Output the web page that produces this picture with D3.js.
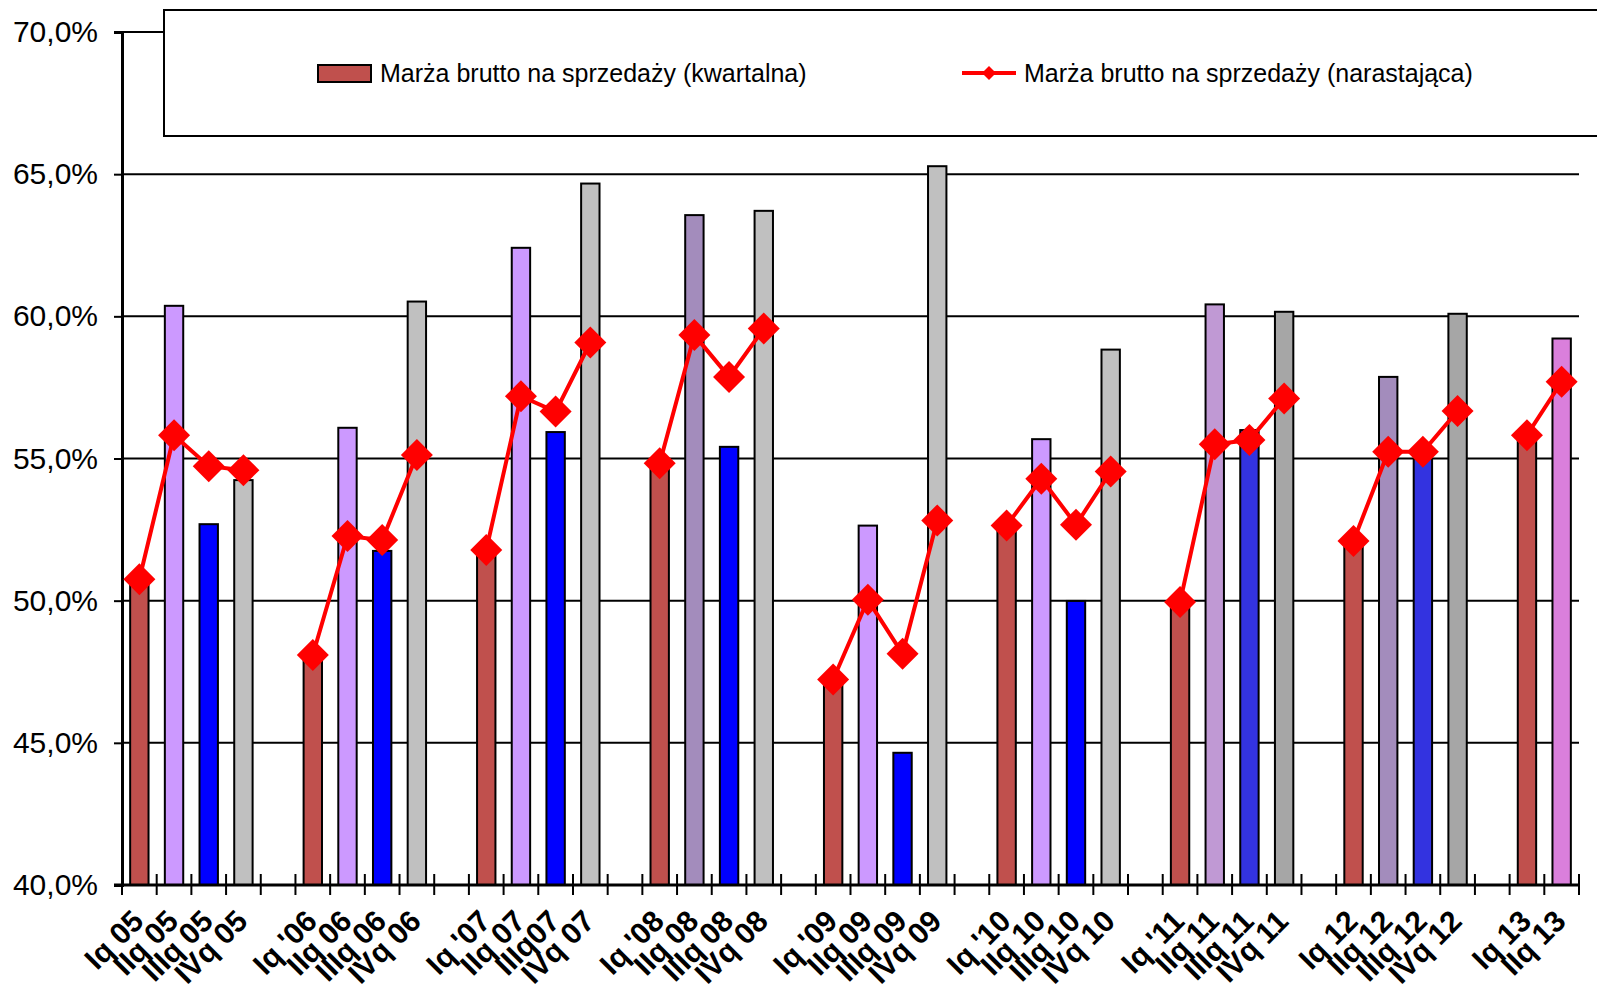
<!DOCTYPE html>
<html>
<head>
<meta charset="utf-8">
<script src="https://cdn.jsdelivr.net/npm/d3@7"></script>
<style>
  body { margin: 0; background: #fff; }
  text { font-family: Arial, "Liberation Sans", sans-serif; }
</style>
</head>
<body>
<div id="chart"></div>
<script>
// Chart size
var svgWidth = 1597;
var svgHeight = 990;

// Plot area edges
var margin = { top: 32, right: 18, bottom: 105, left: 122 };

// Category slots (empty string = gap between years)
var categories = [
  "Iq 05", "IIq 05", "IIIq 05", "IVq 05", "",
  "Iq '06", "IIq 06", "IIIq 06", "IVq 06", "",
  "Iq '07", "IIq 07", "IIIq07", "IVq 07", "",
  "Iq '08", "IIq 08", "IIIq 08", "IVq 08", "",
  "Iq '09", "IIq 09", "IIIq 09", "IVq 09", "",
  "Iq '10", "IIq 10", "IIIq 10", "IVq 10", "",
  "Iq '11", "IIq 11", "IIIq 11", "IVq 11", "",
  "Iq 12", "IIq 12", "IIIq 12", "IVq 12", "",
  "Iq 13", "IIq 13"
];

// Quarterly gross margin (%)
var quarterly = [
  50.75, 60.37, 52.69, 54.24, null,
  48.09, 56.08, 51.75, 60.52, null,
  51.78, 62.41, 55.93, 64.67, null,
  54.83, 63.56, 55.41, 63.71, null,
  47.23, 52.64, 44.65, 65.28, null,
  52.64, 55.68, 49.99, 58.83, null,
  49.95, 60.42, 56.0, 60.16, null,
  52.1, 57.87, 55.0, 60.09, null,
  55.82, 59.22
];

// Cumulative gross margin (%)
var cumulative = [
  50.75, 55.82, 54.73, 54.59, null,
  48.09, 52.27, 52.13, 55.12, null,
  51.78, 57.19, 56.65, 59.08, null,
  54.83, 59.34, 57.87, 59.57, null,
  47.23, 50.03, 48.13, 52.82, null,
  52.64, 54.29, 52.67, 54.54, null,
  49.95, 55.5, 55.65, 57.11, null,
  52.1, 55.24, 55.24, 56.67, null,
  55.82, 57.7
];

// Bar fill colours per slot
var barColors = [
  "#C0504D", "#CC99FF", "#0000FF", "#C0C0C0", null,
  "#C0504D", "#CC99FF", "#0000FF", "#C0C0C0", null,
  "#C0504D", "#CC99FF", "#0000FF", "#C0C0C0", null,
  "#C0504D", "#A38CBC", "#0000FF", "#C0C0C0", null,
  "#C0504D", "#CC99FF", "#0000FF", "#C0C0C0", null,
  "#C0504D", "#CC99FF", "#0000FF", "#C0C0C0", null,
  "#C0504D", "#C099D4", "#3333E0", "#A6A6A6", null,
  "#C0504D", "#A38CBC", "#3333E0", "#A6A6A6", null,
  "#C0504D", "#DA7FDC"
];

var yTicks = [40, 45, 50, 55, 60, 65, 70];

var legendLabels = [
  "Marża brutto na sprzedaży (kwartalna)",
  "Marża brutto na sprzedaży (narastająca)"
];

var svg = d3.select("#chart")
  .append("svg")
  .attr("width", svgWidth)
  .attr("height", svgHeight);

svg.append("rect")
  .attr("width", svgWidth)
  .attr("height", svgHeight)
  .attr("fill", "#fff");

var x0 = margin.left;
var x1 = svgWidth - margin.right;
var yBottom = svgHeight - margin.bottom;

// Scales
var xScale = d3.scaleBand()
  .domain(d3.range(categories.length))
  .range([x0, x1])
  .padding(0);

var yScale = d3.scaleLinear()
  .domain([40, 70])
  .range([yBottom, margin.top]);

var step = xScale.step();
var barWidth = step * 0.53;

// Gridlines
svg.append("g")
  .selectAll("line")
  .data(yTicks.filter(d => d > 40))
  .enter()
  .append("line")
  .attr("x1", x0)
  .attr("x2", x1)
  .attr("y1", d => yScale(d))
  .attr("y2", d => yScale(d))
  .attr("stroke", "#000")
  .attr("stroke-width", 2);

// Y axis
var leftAxis = d3.axisLeft(yScale)
  .tickValues(yTicks)
  .tickSize(8)
  .tickPadding(16)
  .tickFormat(d => d.toFixed(1).replace(".", ",") + "%");

var yAxis = svg.append("g")
  .attr("transform", `translate(${x0}, 0)`)
  .call(leftAxis);
yAxis.select(".domain").attr("stroke", "#000").attr("stroke-width", 3);
yAxis.selectAll(".tick line").attr("stroke-width", 2);
yAxis.selectAll("text")
  .attr("font-size", 30)
  .attr("fill", "#000");

// Bars
svg.append("g")
  .selectAll("rect")
  .data(quarterly.map((v, i) => ({ i: i, v: v })).filter(d => d.v !== null))
  .enter()
  .append("rect")
  .attr("x", d => xScale(d.i) + (step - barWidth) / 2)
  .attr("y", d => yScale(d.v))
  .attr("width", barWidth)
  .attr("height", d => yBottom - yScale(d.v))
  .attr("fill", d => barColors[d.i])
  .attr("stroke", "#000")
  .attr("stroke-width", 2);

// X axis line + crossing ticks
svg.append("line")
  .attr("x1", x0 - 8)
  .attr("x2", x1)
  .attr("y1", yBottom)
  .attr("y2", yBottom)
  .attr("stroke", "#000")
  .attr("stroke-width", 3);

svg.append("g")
  .selectAll("line")
  .data(d3.range(categories.length + 1))
  .enter()
  .append("line")
  .attr("x1", d => x0 + d * step)
  .attr("x2", d => x0 + d * step)
  .attr("y1", yBottom - 11)
  .attr("y2", yBottom + 10)
  .attr("stroke", "#000")
  .attr("stroke-width", 2);

// X labels
svg.append("g")
  .selectAll("text")
  .data(categories.map((c, i) => ({ i: i, c: c })).filter(d => d.c !== ""))
  .enter()
  .append("text")
  .attr("transform", d => `translate(${xScale(d.i) + step / 2 + 6}, ${yBottom + 38}) rotate(-45)`)
  .attr("text-anchor", "end")
  .attr("font-size", 30)
  .attr("font-weight", "bold")
  .attr("fill", "#000")
  .text(d => d.c);

// Cumulative line
var line = d3.line()
  .defined(d => d.v !== null)
  .x(d => xScale(d.i) + step / 2)
  .y(d => yScale(d.v));

var cumData = cumulative.map((v, i) => ({ i: i, v: v }));

svg.append("path")
  .datum(cumData)
  .attr("d", line)
  .attr("fill", "none")
  .attr("stroke", "#FF0000")
  .attr("stroke-width", 4);

var diamond = 16;
svg.append("g")
  .selectAll("path")
  .data(cumData.filter(d => d.v !== null))
  .enter()
  .append("path")
  .attr("transform", d => `translate(${xScale(d.i) + step / 2}, ${yScale(d.v)})`)
  .attr("d", `M0,${-diamond}L${diamond},0L0,${diamond}L${-diamond},0Z`)
  .attr("fill", "#FF0000");

// Legend
var legend = svg.append("g");
legend.append("rect")
  .attr("x", 164)
  .attr("y", 10)
  .attr("width", svgWidth)
  .attr("height", 126)
  .attr("fill", "#fff")
  .attr("stroke", "#000")
  .attr("stroke-width", 2);

legend.append("rect")
  .attr("x", 318)
  .attr("y", 65)
  .attr("width", 53)
  .attr("height", 17)
  .attr("fill", "#C0504D")
  .attr("stroke", "#000")
  .attr("stroke-width", 2);

legend.append("text")
  .attr("x", 380)
  .attr("y", 82)
  .attr("font-size", 25)
  .attr("fill", "#000")
  .text(legendLabels[0]);

legend.append("line")
  .attr("x1", 962)
  .attr("x2", 1016)
  .attr("y1", 73)
  .attr("y2", 73)
  .attr("stroke", "#FF0000")
  .attr("stroke-width", 4);

legend.append("path")
  .attr("transform", "translate(989, 73)")
  .attr("d", "M0,-7L7,0L0,7L-7,0Z")
  .attr("fill", "#FF0000");

legend.append("text")
  .attr("x", 1024)
  .attr("y", 82)
  .attr("font-size", 25)
  .attr("fill", "#000")
  .text(legendLabels[1]);
</script>
</body>
</html>
